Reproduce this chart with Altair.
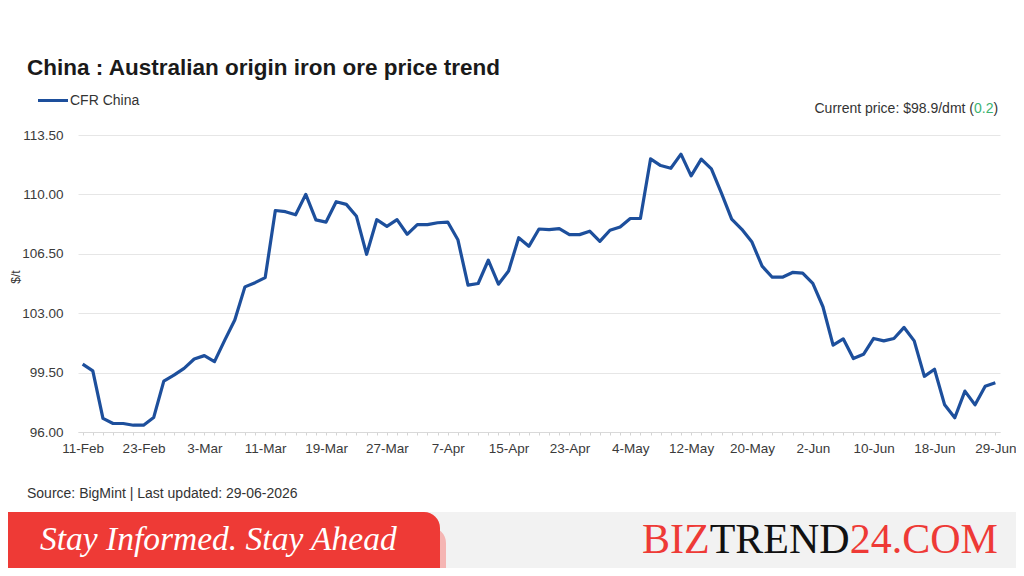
import altair as alt
import pandas as pd

# ---------------- data ----------------
dates = [
    "11-Feb", "12-Feb", "13-Feb", "16-Feb", "17-Feb", "20-Feb",
    "23-Feb", "24-Feb", "25-Feb", "26-Feb", "27-Feb", "2-Mar",
    "3-Mar", "4-Mar", "5-Mar", "6-Mar", "9-Mar", "10-Mar",
    "11-Mar", "12-Mar", "13-Mar", "16-Mar", "17-Mar", "18-Mar",
    "19-Mar", "20-Mar", "23-Mar", "24-Mar", "25-Mar", "26-Mar",
    "27-Mar", "30-Mar", "31-Mar", "1-Apr", "2-Apr", "3-Apr",
    "7-Apr", "8-Apr", "9-Apr", "10-Apr", "13-Apr", "14-Apr",
    "15-Apr", "16-Apr", "17-Apr", "20-Apr", "21-Apr", "22-Apr",
    "23-Apr", "24-Apr", "27-Apr", "28-Apr", "29-Apr", "30-Apr",
    "4-May", "5-May", "6-May", "7-May", "8-May", "11-May",
    "12-May", "13-May", "14-May", "15-May", "18-May", "19-May",
    "20-May", "21-May", "22-May", "26-May", "27-May", "28-May",
    "2-Jun", "3-Jun", "4-Jun", "5-Jun", "8-Jun", "9-Jun",
    "10-Jun", "11-Jun", "12-Jun", "15-Jun", "16-Jun", "17-Jun",
    "18-Jun", "19-Jun", "22-Jun", "23-Jun", "24-Jun", "26-Jun",
    "29-Jun",
]

prices = [
    100.0, 99.6, 96.8, 96.5, 96.5, 96.4,
    96.4, 96.85, 99.0, 99.35, 99.75, 100.3,
    100.5, 100.15, 101.4, 102.6, 104.55, 104.8,
    105.1, 109.05, 108.98, 108.8, 110.0, 108.5,
    108.37, 109.57, 109.41, 108.71, 106.47, 108.51,
    108.12, 108.51, 107.65, 108.22, 108.22, 108.33,
    108.37, 107.33, 104.65, 104.75, 106.12, 104.71,
    105.49, 107.45, 106.94, 107.96, 107.92, 107.98,
    107.63, 107.63, 107.83, 107.23, 107.89, 108.08,
    108.58, 108.58, 112.09, 111.7, 111.54, 112.37,
    111.09, 112.08, 111.5, 110.06, 108.54, 107.94,
    107.19, 105.77, 105.12, 105.12, 105.4, 105.36,
    104.76, 103.38, 101.12, 101.49, 100.33, 100.58,
    101.51, 101.37, 101.51, 102.16, 101.37, 99.28,
    99.7, 97.6, 96.84, 98.41, 97.6, 98.69,
    98.9,
]

tick_labels = [
    "11-Feb", "23-Feb", "3-Mar", "11-Mar", "19-Mar", "27-Mar", "7-Apr",
    "15-Apr", "23-Apr", "4-May", "12-May", "20-May", "2-Jun", "10-Jun",
    "18-Jun", "29-Jun",
]

y_ticks = [96.0, 99.5, 103.0, 106.5, 110.0, 113.5]

title_text = "China : Australian origin iron ore price trend"
series_name = "CFR China"
price_prefix = "Current price: $98.9/dmt ("
price_change = "0.2"
price_suffix = ")"
y_title = "$/t"
source_text = "Source: BigMint | Last updated: 29-06-2026"
banner_left = "Stay Informed. Stay Ahead"
brand_parts = ["BIZ", "TREND", "24.COM"]

# ---------------- styles ----------------
LINE_BLUE = "#1d4f9c"
RED = "#ee3a36"
FONT = "Liberation Sans"
SERIF = "Liberation Serif"

df = pd.DataFrame({"date": dates, "price": prices})
one = pd.DataFrame({"k": [0]})

label_list = ",".join("'" + t + "'" for t in tick_labels)
label_expr = f"indexof([{label_list}], datum.value) >= 0 ? datum.value : ''"

x_enc = alt.X(
    "date:N",
    sort=dates,
    scale=alt.Scale(type="point", padding=0.46),
    axis=alt.Axis(
        title=None,
        labelAngle=0,
        labelExpr=label_expr,
        labelOverlap=False,
        grid=False,
        domainColor="#d9d9d9",
        tickColor="#d4d4d4",
        tickSize=3,
        labelPadding=6,
        labelFontSize=13.5,
        labelColor="#3a3a3a",
        labelFont=FONT,
    ),
)
y_enc = alt.Y(
    "price:Q",
    scale=alt.Scale(domain=[96, 113.5], nice=False, zero=False),
    axis=alt.Axis(
        title=None,
        values=y_ticks,
        format=".2f",
        domain=False,
        ticks=False,
        labelPadding=15,
        labelFontSize=13.5,
        labelColor="#3a3a3a",
        labelFont=FONT,
        gridColor="#e6e6e6",
        gridWidth=1,
    ),
)

line = alt.Chart(df).mark_line(color=LINE_BLUE, strokeWidth=3.2, strokeJoin="round").encode(
    x=x_enc, y=y_enc
)


def txt(text, x, y, size, color="#333333", weight="normal", align="left",
        baseline="alphabetic", font=FONT, style="normal", angle=0):
    kw = dict(fontSize=size, color=color, fontWeight=weight, align=align,
              baseline=baseline, font=font, fontStyle=style)
    if angle:
        kw["angle"] = angle
    return alt.Chart(pd.DataFrame({"t": [text]})).mark_text(**kw).encode(
        text="t:N", x=alt.value(x), y=alt.value(y)
    )


def rect(x, x2, y, y2, color, **kw):
    return alt.Chart(one).mark_rect(color=color, **kw).encode(
        x=alt.value(x), x2=alt.value(x2), y=alt.value(y), y2=alt.value(y2)
    )


legend_line = alt.Chart(one).mark_rule(color=LINE_BLUE, strokeWidth=3).encode(
    x=alt.value(-40), x2=alt.value(-10), y=alt.value(-34.5)
)

layers = [
    rect(-70, 938, 377, 433, "#f2f2f2"),
    rect(-70, 368, 392, 433, "#f5b5b3", cornerRadiusTopRight=16),
    rect(-70, 362, 377, 433, RED, cornerRadiusTopRight=16),
    line,
    legend_line,
    txt(title_text, -51, -60, 22.5, color="#1a1a1a", weight="bold"),
    txt(series_name, -8, -30, 14, color="#333333"),
    txt(price_prefix, 896, -22, 14, color="#333333", align="right"),
    txt(price_change, 896, -22, 14, color="#3cb371", align="left"),
    txt(price_suffix, 915.5, -22, 14, color="#333333", align="left"),
    txt(y_title, -62, 142, 12, color="#333333", align="center",
        baseline="middle", angle=270),
    txt(source_text, -51, 363, 14, color="#333333"),
    txt(banner_left, -38, 415, 33.5, color="white", font=SERIF, style="italic"),
    txt(brand_parts[0], 564, 418, 42, color=RED, font=SERIF),
    txt(brand_parts[1], 631.7, 418, 42, color="#111111", font=SERIF),
    txt(brand_parts[2], 771.7, 418, 42, color=RED, font=SERIF),
]

chart = alt.layer(*layers).properties(
    width=922,
    height=297,
    autosize=alt.AutoSizeParams(type="none"),
    padding={"left": 70, "top": 127, "right": 16, "bottom": 136},
    background="white",
).configure_view(stroke=None)

chart.save("out.html", embed_options={"renderer": "svg", "actions": False})
